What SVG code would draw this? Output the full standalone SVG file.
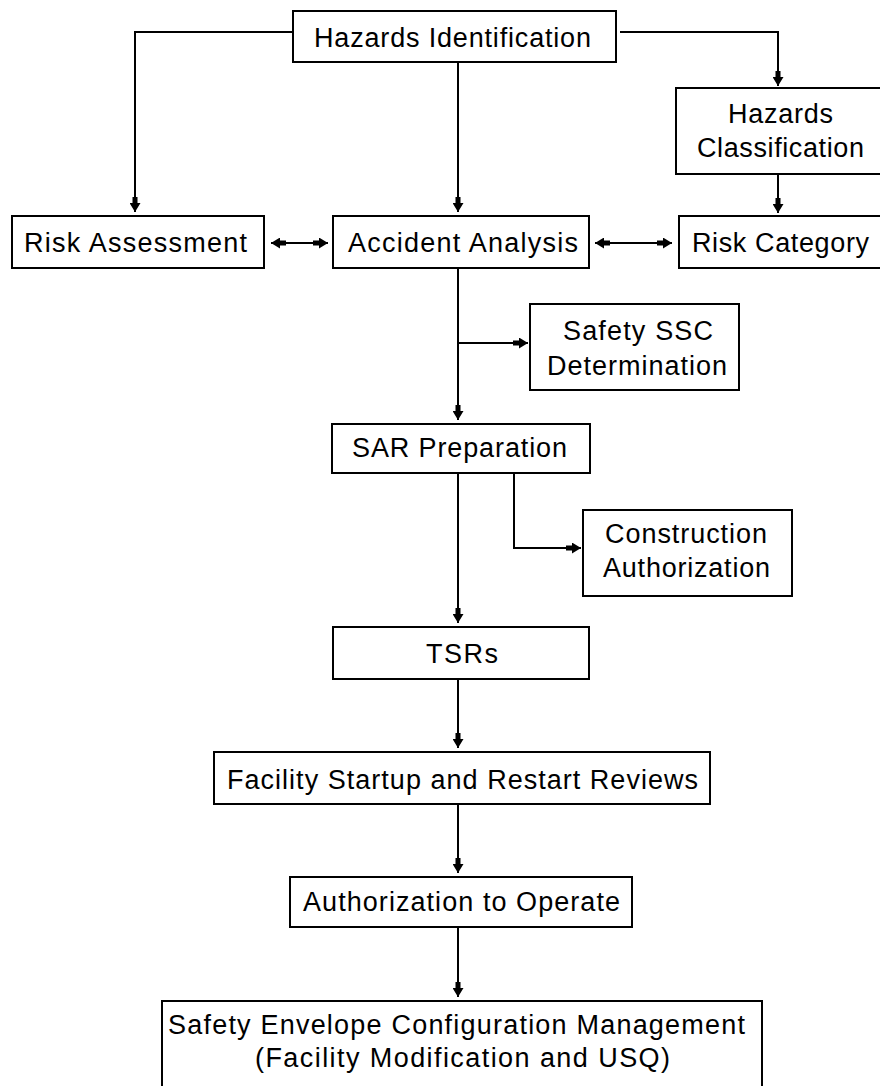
<svg xmlns="http://www.w3.org/2000/svg" width="880" height="1086" viewBox="0 0 880 1086">
<style>
.box{fill:#fff;stroke:#000;stroke-width:2}
.lbl{font-family:"Liberation Sans",Arial,sans-serif;font-size:27px;fill:#000}
.con{fill:none;stroke:#000;stroke-width:2}
.arr{marker-end:url(#ah)}
.dbl{marker-start:url(#ah);marker-end:url(#ah)}
</style>
<defs>
<marker id="ah" markerUnits="userSpaceOnUse" markerWidth="15" markerHeight="11" refX="15" refY="5.5" orient="auto-start-reverse" viewBox="0 0 15 11">
<path d="M0,3 L6,3 L6,0 L15,5.5 L6,11 L6,8 L0,8 Z" fill="#000"/>
</marker>
</defs>
<rect width="880" height="1086" fill="#fff"/>
<g id="connectors">
<polyline class="con arr" points="293,32 135,32 135,212"/>
<line class="con arr" x1="458" y1="62" x2="458" y2="212"/>
<polyline class="con arr" points="620,32 778,32 778,86"/>
<line class="con arr" x1="778" y1="174" x2="778" y2="213"/>
<line class="con dbl" x1="271" y1="243" x2="328" y2="243"/>
<line class="con dbl" x1="595" y1="243" x2="672" y2="243"/>
<line class="con arr" x1="458" y1="268" x2="458" y2="420"/>
<line class="con arr" x1="458" y1="343" x2="528" y2="343"/>
<line class="con arr" x1="458" y1="473" x2="458" y2="623"/>
<polyline class="con arr" points="514,473 514,548 581,548"/>
<line class="con arr" x1="458" y1="679" x2="458" y2="748"/>
<line class="con arr" x1="458" y1="804" x2="458" y2="873"/>
<line class="con arr" x1="458" y1="927" x2="458" y2="997"/>
</g>
<g id="hazards-identification">
<rect class="box" x="293" y="11" width="323" height="51"/>
<text class="lbl" x="314" y="47" textLength="277" lengthAdjust="spacing">Hazards Identification</text>
</g>
<g id="hazards-classification">
<rect class="box" x="676" y="88" width="210" height="86"/>
<text class="lbl" x="728" y="123" textLength="105" lengthAdjust="spacing">Hazards</text>
<text class="lbl" x="697" y="157" textLength="167" lengthAdjust="spacing">Classification</text>
</g>
<g id="risk-assessment">
<rect class="box" x="12" y="216" width="252" height="52"/>
<text class="lbl" x="24" y="252" textLength="223" lengthAdjust="spacing">Risk Assessment</text>
</g>
<g id="accident-analysis">
<rect class="box" x="333" y="216" width="256" height="52"/>
<text class="lbl" x="348" y="252" textLength="230" lengthAdjust="spacing">Accident Analysis</text>
</g>
<g id="risk-category">
<rect class="box" x="679" y="216" width="210" height="52"/>
<text class="lbl" x="692" y="252" textLength="177" lengthAdjust="spacing">Risk Category</text>
</g>
<g id="safety-ssc-determination">
<rect class="box" x="530" y="304" width="209" height="86"/>
<text class="lbl" x="563" y="340" textLength="150" lengthAdjust="spacing">Safety SSC</text>
<text class="lbl" x="547" y="375" textLength="180" lengthAdjust="spacing">Determination</text>
</g>
<g id="sar-preparation">
<rect class="box" x="332" y="424" width="258" height="49"/>
<text class="lbl" x="352" y="457" textLength="215" lengthAdjust="spacing">SAR Preparation</text>
</g>
<g id="construction-authorization">
<rect class="box" x="583" y="510" width="209" height="86"/>
<text class="lbl" x="605" y="543" textLength="162" lengthAdjust="spacing">Construction</text>
<text class="lbl" x="603" y="577" textLength="167" lengthAdjust="spacing">Authorization</text>
</g>
<g id="tsrs">
<rect class="box" x="333" y="627" width="256" height="52"/>
<text class="lbl" x="426" y="663" textLength="72" lengthAdjust="spacing">TSRs</text>
</g>
<g id="facility-startup">
<rect class="box" x="214" y="752" width="496" height="52"/>
<text class="lbl" x="227" y="789" textLength="471" lengthAdjust="spacing">Facility Startup and Restart Reviews</text>
</g>
<g id="authorization-to-operate">
<rect class="box" x="290" y="877" width="342" height="50"/>
<text class="lbl" x="303" y="911" textLength="317" lengthAdjust="spacing">Authorization to Operate</text>
</g>
<g id="safety-envelope">
<rect class="box" x="162" y="1001" width="600" height="95"/>
<text class="lbl" x="168" y="1034" textLength="577" lengthAdjust="spacing">Safety Envelope Configuration Management</text>
<text class="lbl" x="255" y="1067" textLength="415" lengthAdjust="spacing">(Facility Modification and USQ)</text>
</g>
</svg>
